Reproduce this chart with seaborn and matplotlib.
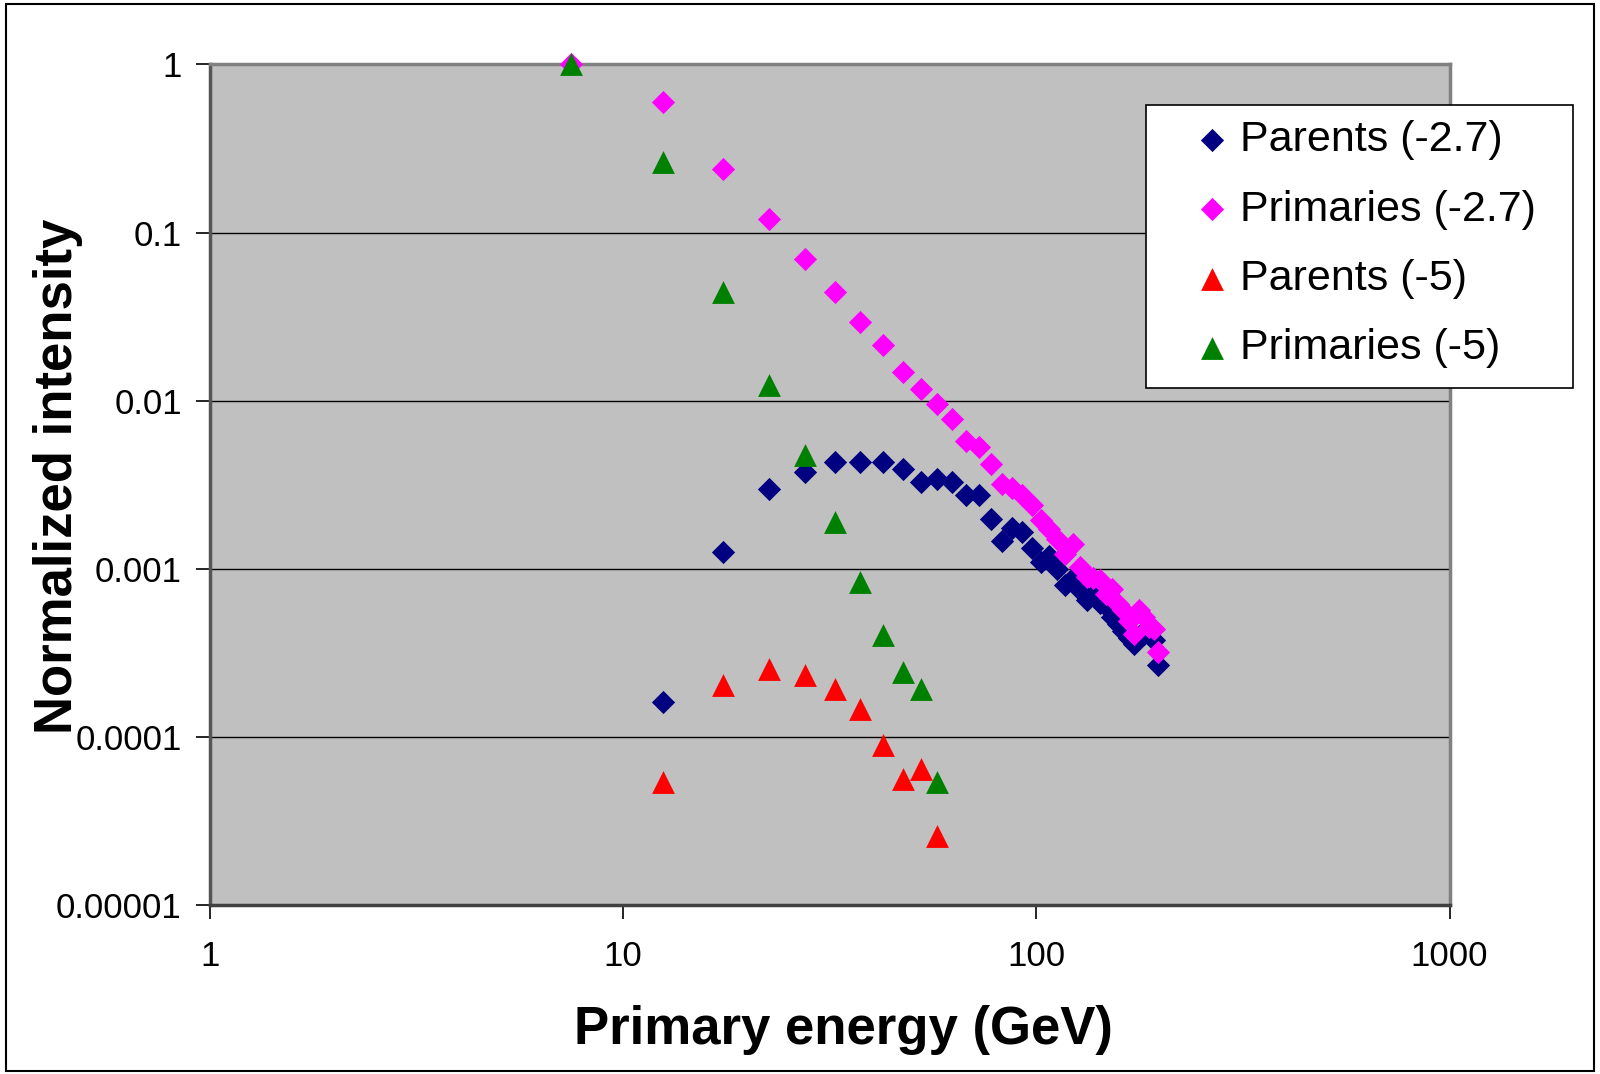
import numpy as np
import pandas as pd
import matplotlib
matplotlib.use("Agg")
import matplotlib.pyplot as plt
import seaborn as sns
from matplotlib.patches import Rectangle
from matplotlib.ticker import FixedLocator, FixedFormatter, NullLocator

# ---------------- data ----------------
energy_parents_27 = [12.5, 17.5, 22.5, 27.5, 32.5, 37.5, 42.5, 47.5, 52.5, 57.5,
                     62.5, 67.5, 72.5, 77.5, 82.5, 87.5, 92.5, 97.5, 102.5, 107.5,
                     112.5, 117.5, 122.5, 127.5, 132.5, 137.5, 142.5, 147.5, 152.5, 157.5,
                     162.5, 167.5, 172.5, 177.5, 182.5, 187.5, 192.5, 197.5]
parents_27 = [0.000163, 0.00127, 0.00300, 0.00377, 0.00432, 0.00432, 0.00432, 0.00395, 0.00329, 0.00345,
              0.00329, 0.00274, 0.00274, 0.00199, 0.00146, 0.00175, 0.00165, 0.00134, 0.00110, 0.00120,
              0.00100, 0.00080, 0.00089, 0.00075, 0.00065, 0.00070, 0.00063, 0.00060, 0.00052, 0.00047,
              0.00043, 0.00039, 0.00036, 0.00040, 0.00041, 0.00042, 0.00038, 0.000267]

energy_primaries_27 = [7.5, 12.5, 17.5, 22.5, 27.5, 32.5, 37.5, 42.5, 47.5, 52.5, 57.5,
                       62.5, 67.5, 72.5, 77.5, 82.5, 87.5, 92.5, 97.5, 102.5, 107.5,
                       112.5, 117.5, 122.5, 127.5, 132.5, 137.5, 142.5, 147.5, 152.5, 157.5,
                       162.5, 167.5, 172.5, 177.5, 182.5, 187.5, 192.5, 197.5]
primaries_27 = [1.0, 0.60, 0.240, 0.121, 0.0701, 0.0444, 0.0294, 0.0214, 0.0148, 0.0118, 0.0096,
                0.0078, 0.0058, 0.0053, 0.0042, 0.00322, 0.00305, 0.00274, 0.00239, 0.00195, 0.00174,
                0.00151, 0.00123, 0.00141, 0.00103, 0.00090, 0.00088, 0.00086, 0.00071, 0.00076, 0.00062,
                0.00057, 0.00049, 0.00041, 0.00057, 0.00052, 0.00045, 0.00044, 0.00032]

energy_parents_5 = [12.5, 17.5, 22.5, 27.5, 32.5, 37.5, 42.5, 47.5, 52.5, 57.5]
parents_5 = [0.000054, 0.000203, 0.000255, 0.000233, 0.000194, 0.000148, 0.0000893, 0.0000565, 0.0000648, 0.000026]

energy_primaries_5 = [7.5, 12.5, 17.5, 22.5, 27.5, 32.5, 37.5, 42.5, 47.5, 52.5, 57.5]
primaries_5 = [1.0, 0.263, 0.0444, 0.0124, 0.00474, 0.0019, 0.00084, 0.000403, 0.000244, 0.000194, 0.000054]

series_labels = ["Parents (-2.7)", "Primaries (-2.7)", "Parents (-5)", "Primaries (-5)"]
x_ticks = [1, 10, 100, 1000]
x_tick_labels = ["1", "10", "100", "1000"]
y_ticks = [1e-5, 1e-4, 1e-3, 1e-2, 1e-1, 1]
y_tick_labels = ["0.00001", "0.0001", "0.001", "0.01", "0.1", "1"]
x_title = "Primary energy (GeV)"
y_title = "Normalized intensity"

# ---------------- style ----------------
sns.set_style("white")
plt.rcParams["font.family"] = ["Liberation Sans", "DejaVu Sans"]
plt.rcParams["text.color"] = "black"
plt.rcParams["axes.labelcolor"] = "black"

fig = plt.figure(figsize=(16, 10.74), dpi=100)
ax = fig.add_axes([0.131, 0.157, 0.775, 0.783])
ax.set_facecolor("#C0C0C0")

specs = [
    (energy_parents_27, parents_27, series_labels[0], "D", "#000080", 140),
    (energy_primaries_27, primaries_27, series_labels[1], "D", "#FF00FF", 140),
    (energy_parents_5, parents_5, series_labels[2], "^", "#FF0000", 270),
    (energy_primaries_5, primaries_5, series_labels[3], "^", "#008000", 270),
]
for i, (xs, ys, lab, mk, col, sz) in enumerate(specs):
    df = pd.DataFrame({"E": xs, "I": ys})
    sns.scatterplot(data=df, x="E", y="I", ax=ax, marker=mk, color=col, s=sz,
                    linewidth=0, label=lab, clip_on=False, zorder=3 + i, legend=True)

ax.set_xscale("log")
ax.set_yscale("log")
ax.set_xlim(1, 1000)
ax.set_ylim(1e-5, 1)

ax.xaxis.set_major_locator(FixedLocator(x_ticks))
ax.xaxis.set_major_formatter(FixedFormatter(x_tick_labels))
ax.xaxis.set_minor_locator(NullLocator())
ax.yaxis.set_major_locator(FixedLocator(y_ticks))
ax.yaxis.set_major_formatter(FixedFormatter(y_tick_labels))
ax.yaxis.set_minor_locator(NullLocator())

ax.tick_params(axis="both", which="major", direction="out", length=10, width=1.2,
               color="black", labelsize=25, labelcolor="black", left=True, bottom=True)
ax.tick_params(axis="x", pad=15)
ax.tick_params(axis="y", pad=10)

ax.yaxis.grid(True, color="black", linewidth=1.0)
ax.xaxis.grid(False)
ax.set_axisbelow(True)

for side, sp in ax.spines.items():
    sp.set_visible(True)
    sp.set_color("#808080")
    sp.set_linewidth(2.5)
ax.spines["left"].set_color("#555555")
ax.spines["bottom"].set_color("#404040")

ax.set_xlabel(x_title, fontsize=38, fontweight="bold", color="black")
ax.xaxis.set_label_coords(0.5115, -0.118, transform=ax.transAxes)
ax.set_ylabel(y_title, fontsize=38, fontweight="bold", color="black")
ax.yaxis.set_label_coords(-0.102, 0.51)

leg = ax.legend(loc="upper left", bbox_to_anchor=(0.716, 0.902), bbox_transform=fig.transFigure,
                fontsize=31, frameon=False, borderpad=0.35, labelspacing=0.68, handlelength=2.4,
                handletextpad=-0.55, scatterpoints=1, borderaxespad=0)
leg.set_zorder(20)
for t in leg.get_texts():
    t.set_color("black")

# legend frame (drawn beneath the legend entries, above the data)
frame = Rectangle((0.716, 0.6387), 0.267, 0.2635, transform=fig.transFigure,
                  facecolor="white", edgecolor="black", linewidth=1.2, zorder=19, clip_on=False)
ax.add_patch(frame)

fig.patches.append(Rectangle((0.004, 0.003), 0.992, 0.993, transform=fig.transFigure,
                             fill=False, edgecolor="black", linewidth=1.5))

fig.savefig("out.png", dpi=100, facecolor="white")
